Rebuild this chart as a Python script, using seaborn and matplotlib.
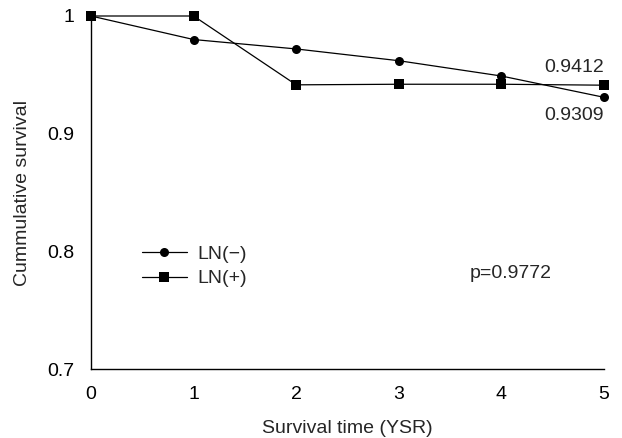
import matplotlib
matplotlib.use("Agg")
import matplotlib.pyplot as plt
import seaborn as sns
import pandas as pd

years = [0, 1, 2, 3, 4, 5]
ln_neg = [1.0, 0.980, 0.972, 0.962, 0.949, 0.9309]
ln_pos = [1.0, 1.0, 0.9415, 0.942, 0.942, 0.9412]
series_names = ["LN(−)", "LN(+)"]
y_ticks = [0.7, 0.8, 0.9, 1.0]
y_tick_labels = ["0.7", "0.8", "0.9", "1"]

sns.set_style("white")
plt.rcParams['font.family'] = ['Liberation Sans', 'DejaVu Sans']

df = pd.DataFrame({
    "year": years * 2,
    "surv": ln_neg + ln_pos,
    "group": [series_names[0]] * len(years) + [series_names[1]] * len(years),
})

fig = plt.figure(figsize=(6.22, 4.38), dpi=100)
ax = fig.add_axes([91/622, 1 - 369/438, (604 - 91)/622, (369 - 16)/438])

sns.lineplot(data=df, x="year", y="surv", hue="group", style="group",
             markers={series_names[0]: "o", series_names[1]: "s"},
             dashes=False, palette=["black", "black"], linewidth=0.9,
             markersize=6.5, markeredgewidth=0, ax=ax, clip_on=False, legend=True)

ax.set_xlim(0, 5)
ax.set_ylim(0.7, 1.0)
ax.set_xticks(years)
ax.set_yticks(y_ticks)
ax.set_yticklabels(y_tick_labels)
for s in ["top", "right"]:
    ax.spines[s].set_visible(False)
for s in ["left", "bottom"]:
    ax.spines[s].set_color("black")
    ax.spines[s].set_linewidth(1)
ax.tick_params(axis="both", direction="out", length=6, width=1, colors="black",
               labelsize=14)
ax.tick_params(axis="y", pad=6)
ax.tick_params(axis="x", length=5.5, pad=7)
ax.set_xlabel("Survival time (YSR)", fontsize=14, labelpad=12)
ax.set_ylabel("Cummulative survival", fontsize=14, labelpad=12)

leg = ax.legend(loc="upper left", bbox_to_anchor=(0.065, 0.40), frameon=False,
                fontsize=14, handlelength=2.3, handletextpad=0.55, labelspacing=0.35)

ax.text(5, 0.9412 + 0.008, "0.9412", ha="right", va="bottom", fontsize=14)
ax.text(5, 0.9309 - 0.008, "0.9309", ha="right", va="top", fontsize=14)
ax.text(4.49, 0.781, "p=0.9772", ha="right", va="center", fontsize=14)

fig.savefig("out.png", dpi=100)
